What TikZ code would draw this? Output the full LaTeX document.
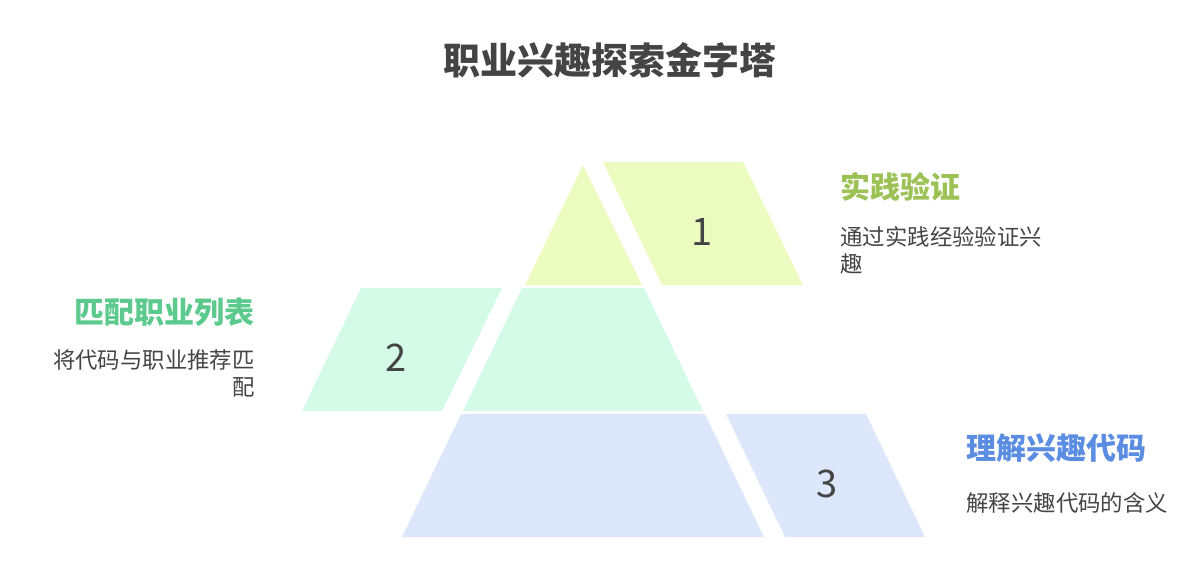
\documentclass[tikz,border=0pt]{standalone}
\usepackage{fontspec}
\newfontfamily\cjk{Noto Sans CJK SC}
\definecolor{topfill}{HTML}{ECFCC1}
\definecolor{midfill}{HTML}{D4FBE7}
\definecolor{lowfill}{HTML}{DDE7FB}
\definecolor{tophead}{HTML}{9CC154}
\definecolor{midhead}{HTML}{5CC98D}
\definecolor{lowhead}{HTML}{5B8DE2}
\definecolor{textgray}{HTML}{444444}
\begin{document}
\begin{tikzpicture}
		[x=0.5pt,y=-0.5pt,
		num/.style={font=\cjk\fontsize{19}{19}\selectfont,text=textgray},
		head/.style={font=\cjk\bfseries\fontsize{15}{18}\selectfont,inner sep=0pt},
		desc/.style={font=\cjk\fontsize{11.2}{13.5}\selectfont,text=textgray,inner sep=0pt}]
		\useasboundingbox (0,0) rectangle (1198,580);

		% title
		\node [font=\cjk\bfseries\fontsize{18.5}{20}\selectfont,text=textgray] (title) at (610,60) {职业兴趣探索金字塔};

		% draw the pyramid tiers
		\fill [topfill] (583,165) -- (642,285) -- (525,285) -- cycle;
		\fill [midfill] (522,288) -- (644,288) -- (703,411) -- (463,411) -- cycle;
		\fill [lowfill] (461,414) -- (705,414) -- (764,537) -- (402,537) -- cycle;

		% draw the side tabs
		\fill [topfill] (603,162) -- (743,162) -- (803,285) -- (662,285) -- cycle;
		\fill [midfill] (361,288) -- (502,288) -- (442,411) -- (302,411) -- cycle;
		\fill [lowfill] (726,414) -- (866,414) -- (925,537) -- (785,537) -- cycle;

		\node [num] (one) at (702,232) {1};
		\node [num] (two) at (396,358) {2};
		\node [num] (three) at (827,484) {3};

		% labels
		\node [head,text=tophead,anchor=west] (practice) at (840,187) {实践验证};
		\node [desc,anchor=north west,align=left] (practicetext) at (840,226) {通过实践经验验证兴\\趣};

		\node [head,text=midhead,anchor=east] (match) at (255,312) {匹配职业列表};
		\node [desc,anchor=north east,align=right] (matchtext) at (255,349) {将代码与职业推荐匹\\配};

		\node [head,text=lowhead,anchor=west] (understand) at (966,448) {理解兴趣代码};
		\node [desc,anchor=west] (understandtext) at (966,503) {解释兴趣代码的含义};
	\end{tikzpicture}
\end{document}
